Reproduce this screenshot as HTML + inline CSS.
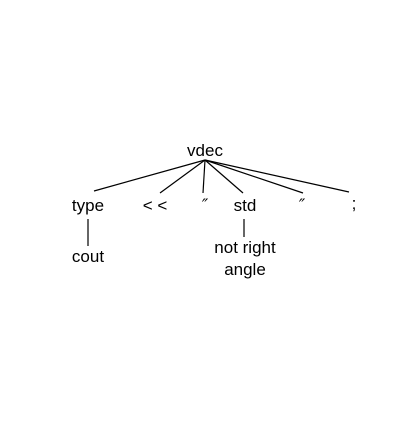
<!DOCTYPE html>
<html><head><style>body{margin:0;background:#fff}</style></head><body>
<svg width="420" height="420" xmlns="http://www.w3.org/2000/svg" font-family="Liberation Sans, DejaVu Sans, sans-serif" font-size="17" fill="#000">
<rect width="420" height="420" fill="#fff"/>
<g stroke="#000" stroke-width="1.2">
<line x1="205" y1="160" x2="94" y2="191"/>
<line x1="205" y1="160" x2="160" y2="193"/>
<line x1="205" y1="160" x2="203" y2="193"/>
<line x1="205" y1="160" x2="243" y2="193"/>
<line x1="205" y1="160" x2="303" y2="193"/>
<line x1="205" y1="160" x2="349" y2="192"/>
<line x1="88" y1="219" x2="88" y2="246"/>
<line x1="244" y1="219" x2="244" y2="237"/>
</g>
<g text-anchor="middle">
<text x="205" y="156">vdec</text>
<text x="88" y="211">type</text>
<text x="155" y="211">&lt; &lt;</text>
<text x="205" y="211" font-style="italic" font-family="DejaVu Sans, sans-serif">″</text>
<text x="245" y="211">std</text>
<text x="302" y="211" font-style="italic" font-family="DejaVu Sans, sans-serif">″</text>
<text x="354" y="209">;</text>
<text x="88" y="262">cout</text>
<text x="245" y="253">not right</text>
<text x="245" y="275">angle</text>
</g>
</svg>
</body></html>
